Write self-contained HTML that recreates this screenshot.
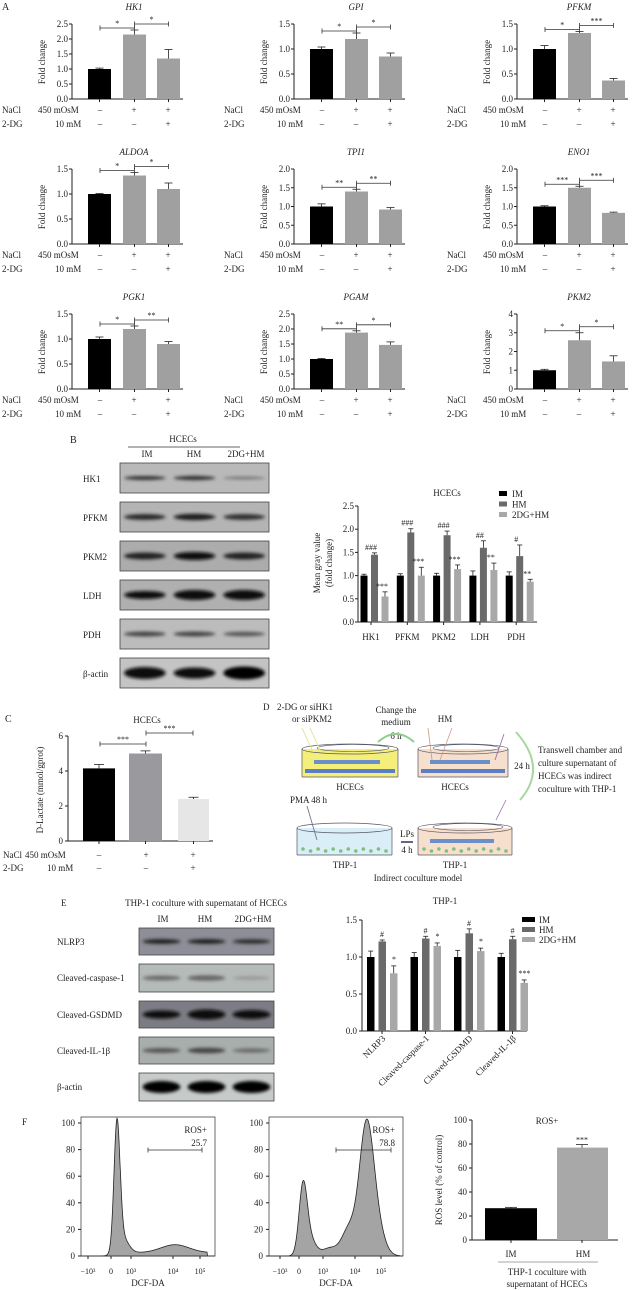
<!DOCTYPE html>
<html><head><meta charset="utf-8"><style>
html,body{margin:0;padding:0;background:#fff;width:640px;height:1290px;overflow:hidden}
svg{display:block}
text{font-family:"Liberation Serif",serif;fill:#222}
</style></head><body>
<svg id="s" width="640" height="1290" viewBox="0 0 640 1290" xmlns="http://www.w3.org/2000/svg">
<defs>
<filter id="bl" x="-20%" y="-100%" width="140%" height="300%"><feGaussianBlur stdDeviation="1.6"/></filter>
<filter id="bl2"><feGaussianBlur stdDeviation="0.8"/></filter>
</defs>
</svg>
<script>
var S=document.getElementById('s');var o='';
function T(x,y,t,sz,anc,extra){o+='<text x="'+x+'" y="'+y+'" font-size="'+(sz||9)+'" text-anchor="'+(anc||'start')+'" '+(extra||'')+'>'+t+'</text>';}
function L(x1,y1,x2,y2,c,w){o+='<line x1="'+x1+'" y1="'+y1+'" x2="'+x2+'" y2="'+y2+'" stroke="'+(c||'#222')+'" stroke-width="'+(w||1)+'"/>';}
function R(x,y,w,h,f,extra){o+='<rect x="'+x+'" y="'+y+'" width="'+w+'" height="'+h+'" fill="'+f+'" '+(extra||'')+'/>';}
function err(x,yv,ye,w){L(x,yv,x,ye,'#222',0.8);L(x-w,ye,x+w,ye,'#222',0.8);}
function brk(x1,x2,y,lab){L(x1,y,x2,y,'#333',0.8);L(x1,y-2.5,x1,y+2.5,'#333',0.8);L(x2,y-2.5,x2,y+2.5,'#333',0.8);T((x1+x2)/2,y-2,lab,8,'middle');}
// Panel A
T(2,10,'A',10);
function chartA(cx,ry,title,max,step,vals,errs,s1,s2){
 var ax=72+cx,yb=99+ry,h=75;function Y(v){return yb-v/max*h;}
 T(134+cx,10+ry,title,9,'middle','font-style="italic"');
 L(ax,Y(max),ax,yb);L(ax,yb,ax+111,yb);
 for(var v=0;v<=max+1e-9;v+=step){var y=Y(v);L(ax-3,y,ax,y);T(ax-4,y+3,(max>=4||step>=1)?v.toFixed(0):v.toFixed(1),9,'end');}
 var xs=[88,123,157],cs=['#000','#a0a0a0','#a0a0a0'];
 for(var i=0;i<3;i++){R(xs[i]+cx,Y(vals[i]),23,yb-Y(vals[i]),cs[i]);err(xs[i]+11.5+cx,Y(vals[i]),Y(vals[i]+errs[i]),4);L(xs[i]+11.5+cx,yb,xs[i]+11.5+cx,yb+3);}
 var top=Math.min(Y(vals[1]+errs[1]),Y(vals[0]+errs[0]))-4;if(top<22+ry)top=22+ry;
 brk(100+cx,134.5+cx,top+2,s1);brk(134.5+cx,168.5+cx,top-2,s2);
 o+='<text x="'+(45+cx)+'" y="'+(62+ry)+'" font-size="9" text-anchor="middle" transform="rotate(-90 '+(45+cx)+' '+(62+ry)+')">Fold change</text>';
 T(2+cx,113+ry,'NaCl',9);T(38+cx,113+ry,'450 mOsM',9);T(2+cx,127+ry,'2-DG',9);T(55+cx,127+ry,'10 mM',9);
 T(100+cx,113+ry,'–',9,'middle');T(134+cx,113+ry,'+',9,'middle');T(168+cx,113+ry,'+',9,'middle');
 T(100+cx,127+ry,'–',9,'middle');T(134+cx,127+ry,'–',9,'middle');T(168+cx,127+ry,'+',9,'middle');
}
chartA(0,0,'HK1',2.5,0.5,[1,2.15,1.35],[.03,.15,.3],'*','*');
chartA(222,0,'GPI',1.5,0.5,[1,1.2,.85],[.04,.12,.07],'*','*');
chartA(445,0,'PFKM',1.5,0.5,[1,1.32,.37],[.07,.03,.04],'*','***');
chartA(0,145,'ALDOA',1.5,0.5,[1,1.37,1.1],[.01,.06,.12],'*','*');
chartA(222,145,'TPI1',2.0,0.5,[1,1.4,.92],[.07,.06,.05],'**','**');
chartA(445,145,'ENO1',2.0,0.5,[1,1.5,.83],[.02,.04,.02],'***','***');
chartA(0,290,'PGK1',1.5,0.5,[1,1.2,.9],[.04,.06,.05],'*','**');
chartA(222,290,'PGAM',2.5,0.5,[1,1.88,1.47],[.02,.06,.1],'**','*');
chartA(445,290,'PKM2',4,1,[1,2.6,1.47],[.05,.4,.3],'*','*');
// Blot helper
function blot(x,y,w,h,bg,bands){R(x,y,w,h,bg,'stroke="#444" stroke-width="0.8"');var lw=w/3;
 for(var i=0;i<3;i++){var b=bands[i];o+='<ellipse cx="'+(x+lw*i+lw/2)+'" cy="'+(y+h/2+(b[2]||0))+'" rx="'+(lw*0.42)+'" ry="'+b[0]+'" fill="'+b[1]+'" filter="url(#bl)"/>';}}
// Panel B
T(70,443,'B',10);T(183,442,'HCECs',9,'middle');L(128,447,240,447,'#333',0.8);
T(147,457,'IM',9,'middle');T(194,457,'HM',9,'middle');T(246,457,'2DG+HM',9,'middle');
var bl=[['HK1','#b9b9b9',[[2,'#333'],[2.2,'#333'],[1.5,'#777']]],['PFKM','#b4b4b4',[[3,'#2a2a2a'],[3.2,'#1c1c1c'],[3,'#333']]],['PKM2','#acacac',[[3.5,'#222'],[4,'#111'],[3.5,'#222']]],['LDH','#b0b0b0',[[4,'#111'],[5,'#080808'],[5,'#080808']]],['PDH','#bcbcbc',[[2.5,'#444'],[2.5,'#444'],[2.3,'#555']]],['β-actin','#c4c4c4',[[6,'#0a0a0a'],[5.5,'#0a0a0a'],[6.5,'#050505']]]];
for(var i=0;i<6;i++){var yy=463+i*39;blot(120,yy,149,30,bl[i][1],bl[i][2]);T(83,yy+19,bl[i][0],9);}
// B chart
(function(){var ax=358,yb=622,Y=function(v){return yb-v*46.4;};
 L(ax,Y(2.5),ax,yb);L(ax,yb,537,yb);
 for(var v=0;v<=2.5;v+=0.5){L(ax-3,Y(v),ax,Y(v));T(ax-4,Y(v)+3,v.toFixed(1),9,'end');}
 T(447,496,'HCECs',9,'middle');
 var lg=['IM','HM','2DG+HM'],cs=['#000','#6a6a6a','#a8a8a8'];
 for(var i=0;i<3;i++){R(499,491+i*10.5,8,5,cs[i]);T(512,497+i*10.5,lg[i],9);}
 var cats=['HK1','PFKM','PKM2','LDH','PDH'],d=[[1,1.45,.55],[1,1.93,1],[1,1.87,1.14],[1,1.6,1.12],[1,1.42,.87]],e=[[.03,.04,.1],[.04,.08,.18],[.05,.09,.09],[.1,.15,.15],[.08,.24,.05]];
 var s1=['###','###','###','##','#'],s2=['***','***','***','**','**'];
 for(var g=0;g<5;g++){var c=375+g*36.3;for(var k=0;k<3;k++){var bx=c-14.5+k*10.5;R(bx,Y(d[g][k]),7,yb-Y(d[g][k]),cs[k]);err(bx+3.5,Y(d[g][k]),Y(d[g][k]+e[g][k]),2.5);}
  T(c-4,Y(d[g][1]+e[g][1])-3,s1[g],8,'middle');T(c+7,Y(d[g][2]+e[g][2])-3,s2[g],8,'middle');L(c-4,yb,c-4,yb+3);T(c-4,640,cats[g],9,'middle');}
 o+='<text font-size="9" text-anchor="middle" transform="translate(320 563) rotate(-90)"><tspan x="0" y="0">Mean gray value</tspan><tspan x="0" y="12">(fold change)</tspan></text>';
})();
// Panel C
T(5,722,'C',10);T(147,723,'HCECs',9,'middle');
(function(){var ax=68,yb=841,Y=function(v){return yb-v*17.5;};
 L(ax,Y(6),ax,yb);L(ax,yb,213,yb);
 for(var v=0;v<=6;v+=2){L(ax-3,Y(v),ax,Y(v));T(ax-5,Y(v)+3,v,9,'end');}
 var xs=[83,129,178],ws=[32,33,31],cs=['#000','#9a9a9e','#e6e6e6'],vs=[4.15,5,2.4],es=[.22,.15,.1];
 for(var i=0;i<3;i++){R(xs[i],Y(vs[i]),ws[i],yb-Y(vs[i]),cs[i]);err(xs[i]+ws[i]/2,Y(vs[i]),Y(vs[i]+es[i]),5);L(xs[i]+ws[i]/2,yb,xs[i]+ws[i]/2,yb+3);}
 brk(100,146,744,'***');brk(146,193,733,'***');
 o+='<text x="43" y="790" font-size="9" text-anchor="middle" transform="rotate(-90 43 790)">D-Lactate (mmol/gprot)</text>';
 T(3,858,'NaCl',9);T(25,858,'450 mOsM',9);T(3,871,'2-DG',9);T(47,871,'10 mM',9);
 T(99,858,'–',9,'middle');T(146,858,'+',9,'middle');T(193,858,'+',9,'middle');
 T(99,871,'–',9,'middle');T(146,871,'–',9,'middle');T(193,871,'+',9,'middle');
})();
// Panel D
T(263,710,'D',9);T(277,710,'2-DG or siHK1',9);T(292,722,'or siPKM2',9);
T(396,713,'Change the',9,'middle');T(396,725,'medium',9,'middle');T(396,739,'6 h',9,'middle');
o+='<path d="M378 742 Q396 726 414 742" fill="none" stroke="#8fce8f" stroke-width="2"/>';
T(445,722,'HM',9,'middle');
function dish(x,y,w,h,fill,cells,ins){o+='<rect x="'+x+'" y="'+(y+6)+'" width="'+w+'" height="'+(h-6)+'" fill="'+fill+'"/>';
 o+='<ellipse cx="'+(x+w/2)+'" cy="'+(y+6)+'" rx="'+w/2+'" ry="5" fill="none" stroke="#556" stroke-width="0.7"/>';
 L(x,y+6,x,y+h,'#556',0.7);L(x+w,y+6,x+w,y+h,'#556',0.7);L(x,y+h,x+w,y+h,'#556',0.7);
 if(ins){o+='<ellipse cx="'+(x+w/2+3)+'" cy="'+(y+5)+'" rx="'+(w/2-12)+'" ry="3.5" fill="none" stroke="#556" stroke-width="0.6"/>';R(x+12,y+17,w-30,4,'#6b8fc9');}
 if(cells=='b')R(x+3,y+h-8,w-6,4,'#5b7fc0');
 if(cells=='g'){for(var i=0;i<12;i++)o+='<circle cx="'+(x+6+i*(w-12)/11)+'" cy="'+(y+h-5+(i%2?1:-1))+'" r="1.8" fill="#7fc07f"/>';}}
dish(302,743,96,34,'#f3ef7a','b',true);
dish(418,743,90,34,'#f6dfcc','b',true);
dish(297,822,95,33,'#d9eef6','g',false);
dish(418,822,94,33,'#f6dfcc','g',true);
L(302,728,312,750,'#e8e4a0',1);L(310,728,320,750,'#e8e4a0',1);
L(428,728,432,760,'#c98',0.8);L(452,728,440,760,'#c98',0.8);
L(504,734,495,760,'#96a',0.8);L(506,800,496,820,'#96a',0.8);L(307,806,317,840,'#668',0.8);
T(350,790,'HCECs',9,'middle');T(455,790,'HCECs',9,'middle');T(522,769,'24 h',9,'middle');
o+='<path d="M516 732 Q548 768 520 800" fill="none" stroke="#a8d8a0" stroke-width="2"/>';
T(538,753,'Transwell chamber and',9);T(538,766,'culture supernatant of',9);T(538,779,'HCECs was indirect',9);T(538,792,'coculture with THP-1',9);
T(290,803,'PMA 48 h',9);T(407,837,'LPs',9,'middle');L(401,842,413,842,'#335',1.5);T(407,853,'4 h',9,'middle');
T(345,868,'THP-1',9,'middle');T(455,868,'THP-1',9,'middle');T(418,881,'Indirect coculture model',9,'middle');
// Panel E
T(61,906,'E',9);T(206,906,'THP-1 coculture with supernatant of HCECs',9,'middle');
T(163,922,'IM',9,'middle');T(205,922,'HM',9,'middle');T(253,922,'2DG+HM',9,'middle');
var be=[['NLRP3','#8e8e98',[[2.5,'#222'],[2.5,'#222'],[2.3,'#2a2a2a']],928,27],['Cleaved-caspase-1','#b5bbb8',[[2.5,'#6a6a6a'],[2.8,'#666'],[2,'#9a9a9a']],964,28],['Cleaved-GSDMD','#7c7c84',[[4,'#111'],[5,'#080808'],[4.5,'#111']],1001,27],['Cleaved-IL-1β','#a8aeab',[[2.5,'#555'],[2.8,'#444'],[2.2,'#6a6a6a']],1037,27],['β-actin','#c6cac8',[[6,'#050505'],[6,'#050505'],[6,'#050505']],1073,28]];
for(var i=0;i<5;i++){blot(139,be[i][3],135,be[i][4],be[i][1],be[i][2]);T(57,be[i][3]+17,be[i][0],9);}
(function(){var ax=362,yb=1031,Y=function(v){return yb-v*74;};
 L(ax,Y(1.5),ax,yb);L(ax,yb,527,yb);
 for(var v=0;v<=1.5;v+=0.5){L(ax-3,Y(v),ax,Y(v));T(ax-5,Y(v)+3,v.toFixed(1),9,'end');}
 T(445,904,'THP-1',9,'middle');
 var lg=['IM','HM','2DG+HM'],cs=['#000','#6a6a6a','#a8a8a8'];
 for(var i=0;i<3;i++){R(522,917+i*10,13,5,cs[i]);T(539,923+i*10,lg[i],9);}
 var cats=['NLRP3','Cleaved-caspase-1','Cleaved-GSDMD','Cleaved-IL-1β'],d=[[1,1.21,.78],[1,1.25,1.15],[1,1.32,1.08],[1,1.24,.65]],e=[[.08,.02,.1],[.06,.03,.04],[.09,.06,.04],[.05,.04,.04]],s2=['*','*','*','***'];
 for(var g=0;g<4;g++){var b0=367+g*43.5;for(var k=0;k<3;k++){var bx=b0+k*11.5;R(bx,Y(d[g][k]),7.5,yb-Y(d[g][k]),cs[k]);err(bx+3.7,Y(d[g][k]),Y(d[g][k]+e[g][k]),2.5);}
  T(b0+15,Y(d[g][1]+e[g][1])-3,'#',8,'middle');T(b0+27,Y(d[g][2]+e[g][2])-4,s2[g],8,'middle');L(b0+15,yb,b0+15,yb+3);
  o+='<text font-size="9" text-anchor="end" transform="translate('+(b0+19)+' '+(yb+8)+') rotate(-45)">'+cats[g]+'</text>';}
})();
// Panel F
T(22,1125,'F',9);
function flow(ax,right,f,lab,val,b1,b2,xl){var yb=1256,yt=1123;
 R(ax,1117,right-ax,yb-1117,'none','stroke="#444" stroke-width="0.8"');
 for(var v=0;v<=100;v+=20){var y=yb-v*1.33;L(ax-3,y,ax,y);T(ax-6,y+3,v,9,'end');}
 var p='M'+ax+' '+yb;for(var x=ax;x<=right;x+=0.5){p+=' L'+x+' '+(yb-f(x)*1.33).toFixed(2);}p+=' L'+right+' '+yb+' Z';
 o+='<path d="'+p+'" fill="#a4a4a4" stroke="#222" stroke-width="0.8"/>';
 brk(b1,b2,1150,'');T(right-8,1133,'ROS+',9,'end');T(right-8,1146,val,9,'end');
 var tl=['−10³','0','10³','10⁴','10⁵'];for(var i=0;i<5;i++){L(xl[i],yb,xl[i],yb+3);T(xl[i],1274,tl[i],8,'middle');}
 T((ax+right)/2,1286,'DCF-DA',9,'middle');}
function G(x,c,h,s){return h*Math.exp(-(x-c)*(x-c)/(2*s*s));}
flow(81,215,function(x){if(x<97||x>207)return 0;var v=G(x,117,95,3)+G(x,122,12,6);if(x>120)v+=2.5;v+=G(x,175,6,14);return v;},'','25.7',148,202,[88,111,131,173,200]);
flow(269,403,function(x){if(x<287||x>400)return 0;var v=G(x,303,48,4)+G(x,309,14,6)+G(x,330,6,8)+G(x,349,20,7)+G(x,366,88,7)+G(x,375,25,8);return v;},'','78.8',336,391,[280,299,323,355,381]);
(function(){var ax=472,yb=1240,Y=function(v){return yb-v*1.2;};
 L(ax,Y(100),ax,yb);L(ax,yb,618,yb);
 for(var v=0;v<=100;v+=20){L(ax-3,Y(v),ax,Y(v));T(ax-5,Y(v)+3,v,9,'end');}
 R(485,Y(26.5),52,yb-Y(26.5),'#000');err(511,Y(26.5),Y(27.2),6);
 R(557,Y(77),51,yb-Y(77),'#a8a8a8');err(582,Y(77),Y(79.5),6);T(582,Y(79.5)-2,'***',8,'middle');
 L(511,yb,511,yb+3);L(582,yb,582,yb+3);
 T(547,1124,'ROS+',9,'middle');T(511,1257,'IM',9,'middle');T(583,1257,'HM',9,'middle');
 L(498,1262,598,1262,'#888',0.8);T(547,1275,'THP-1 coculture with',9,'middle');T(547,1287,'supernatant of HCECs',9,'middle');
 o+='<text x="442" y="1180" font-size="9" text-anchor="middle" transform="rotate(-90 442 1180)">ROS level (% of control)</text>';
})();
S.insertAdjacentHTML('beforeend',o);
</script>
</body></html>
